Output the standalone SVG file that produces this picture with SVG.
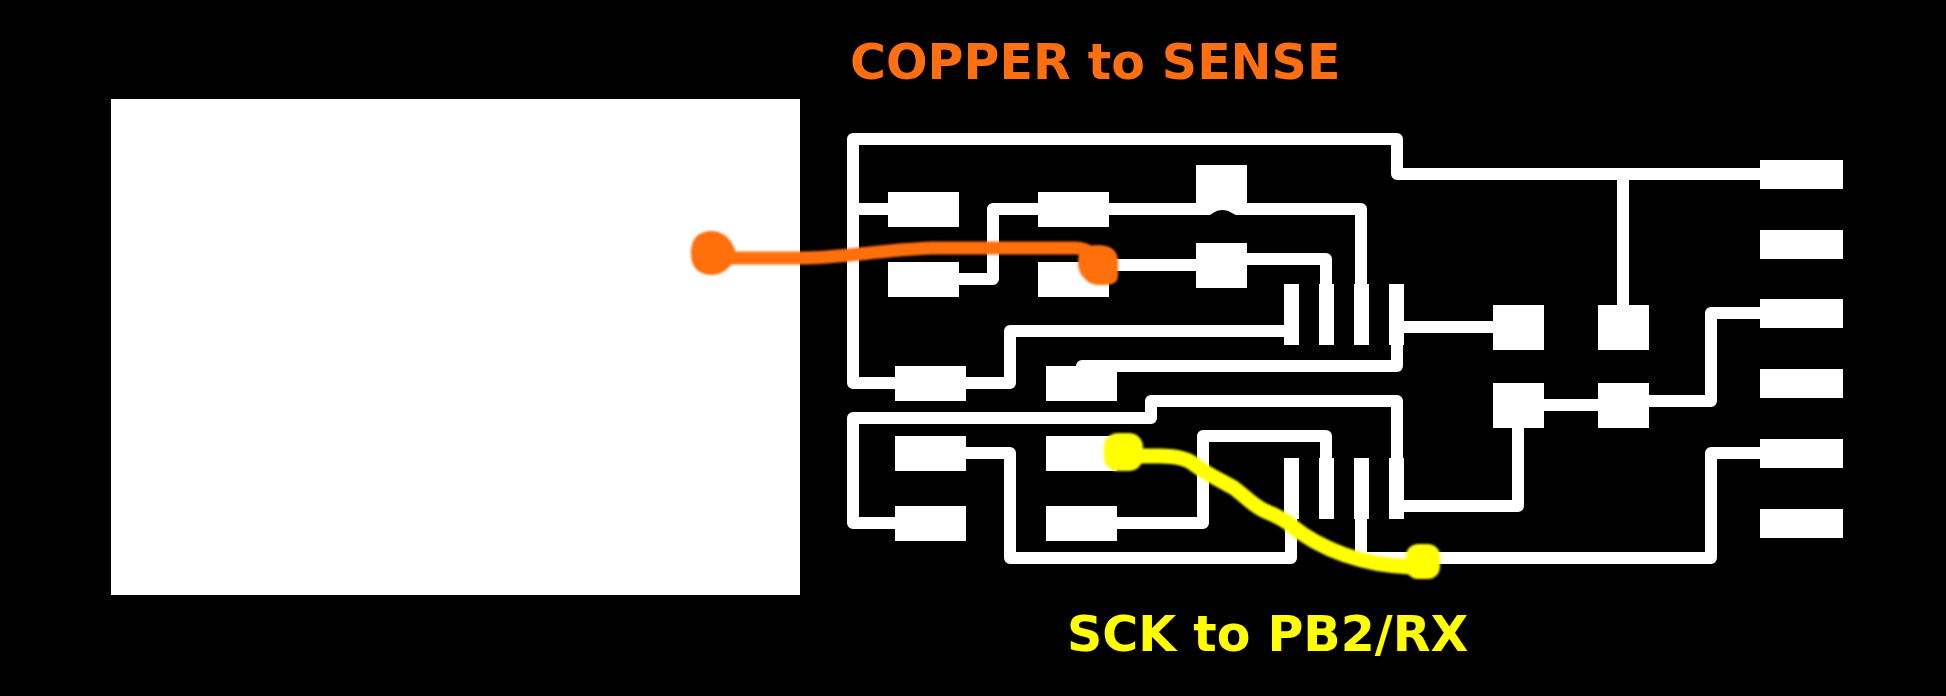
<svg xmlns="http://www.w3.org/2000/svg" width="1946" height="696" viewBox="0 0 1946 696">
<defs>
<style>
.pad{fill:#fff}
.tr{fill:none;stroke:#fff;stroke-width:12;stroke-linejoin:round;stroke-linecap:round}
.lbl{font-family:"DejaVu Sans",sans-serif;font-weight:700;font-size:49px}
.or{fill:none;stroke:#ff6f10;stroke-width:13;stroke-linejoin:round;stroke-linecap:round}
.ye{fill:none;stroke:#ffff00;stroke-width:15;stroke-linejoin:round;stroke-linecap:round}
</style>
<filter id="soft" x="-10%" y="-10%" width="120%" height="120%"><feGaussianBlur stdDeviation="1"/></filter>
</defs>
<rect width="1946" height="696" fill="#000"/>
<g id="copper-plane"><rect class="pad" x="111" y="99" width="689" height="496"/></g>
<g id="connectors">
<path class="tr" d="M1760 174H1397V139H853V383H1010V331H1290"/>
<path class="tr" d="M853 209H888"/>
<path class="tr" d="M1623 174V305"/>
<path class="tr" d="M959 279H993V209H1361V284"/>
<path class="tr" d="M1109 265H1196"/>
<path class="tr" d="M1247 259H1326V284"/>
<path class="tr" d="M1082 366H1397V345"/>
<path class="tr" d="M1404 327H1493"/>
<path class="tr" d="M1397 458V401H1151V418H853V523H895"/>
<path class="tr" d="M966 453H1010V558H1291V519"/>
<path class="tr" d="M1117 523H1203V436H1326V458"/>
<path class="tr" d="M1361 519V558H1711V453H1760"/>
<path class="tr" d="M1404 506H1518V428"/>
<path class="tr" d="M1544 405H1598"/>
<path class="tr" d="M1649 401H1711V313H1760"/>
</g>
<path id="trace-notch" fill="#000" d="M1203 216Q1210 216 1213 213Q1217 210 1222 210Q1228 210 1232 213Q1236 216 1242 216Z"/>
<g id="r1"><rect class="pad" x="888" y="192" width="71" height="35"/></g>
<g id="r2"><rect class="pad" x="888" y="262" width="71" height="35"/></g>
<g id="r3"><rect class="pad" x="1038" y="192" width="71" height="35"/></g>
<g id="r4"><rect class="pad" x="1038" y="262" width="71" height="35"/></g>
<g id="c1"><rect class="pad" x="1196" y="165" width="51" height="45"/></g>
<g id="c2"><rect class="pad" x="1196" y="243" width="51" height="45"/></g>
<g id="r5"><rect class="pad" x="895" y="366" width="71" height="35"/></g>
<g id="r6"><rect class="pad" x="1046" y="366" width="71" height="35"/></g>
<g id="r7"><rect class="pad" x="895" y="436" width="71" height="35"/></g>
<g id="r8"><rect class="pad" x="1046" y="436" width="71" height="35"/></g>
<g id="r9"><rect class="pad" x="895" y="506" width="71" height="35"/></g>
<g id="r10"><rect class="pad" x="1046" y="506" width="71" height="35"/></g>
<g id="ic1">
<rect class="pad" x="1284" y="284" width="15" height="61"/>
<rect class="pad" x="1319" y="284" width="15" height="61"/>
<rect class="pad" x="1354" y="284" width="15" height="61"/>
<rect class="pad" x="1389" y="284" width="15" height="61"/>
</g>
<g id="ic2">
<rect class="pad" x="1284" y="458" width="15" height="61"/>
<rect class="pad" x="1319" y="458" width="15" height="61"/>
<rect class="pad" x="1354" y="458" width="15" height="61"/>
<rect class="pad" x="1389" y="458" width="15" height="61"/>
</g>
<g id="c3"><rect class="pad" x="1493" y="305" width="51" height="45"/></g>
<g id="c4"><rect class="pad" x="1598" y="305" width="51" height="45"/></g>
<g id="c5"><rect class="pad" x="1493" y="383" width="51" height="45"/></g>
<g id="c6"><rect class="pad" x="1598" y="383" width="51" height="45"/></g>
<g id="header">
<rect class="pad" x="1760" y="160" width="83" height="29"/>
<rect class="pad" x="1760" y="230" width="83" height="29"/>
<rect class="pad" x="1760" y="299" width="83" height="29"/>
<rect class="pad" x="1760" y="369" width="83" height="29"/>
<rect class="pad" x="1760" y="439" width="83" height="29"/>
<rect class="pad" x="1760" y="509" width="83" height="29"/>
</g>
<g id="copper-to-sense" filter="url(#soft)">
<path class="or" d="M720 258H800C840 258 880 250 932 248H1075Q1085 248 1095 255"/>
<path d="M691 253Q691 232 711 231Q728 231 735 250V258Q727 275 711 275Q691 274 691 253Z" fill="#ff6f10"/>
<path d="M1078 262Q1078 245 1098 245Q1118 245 1118 262V276Q1118 285 1104 285H1098Q1090 285 1084 278Q1078 272 1078 262Z" fill="#ff6f10"/>
</g>
<g id="sck-to-pb2" filter="url(#soft)">
<path class="ye" d="M1130 456H1160C1175 456 1187 458 1195 465C1205 473 1220 480 1234 488C1245 496 1252 505 1265 511C1275 515 1285 520 1292 526C1305 537 1320 546 1345 555C1365 562 1385 566 1410 567"/>
<rect x="1104" y="433" width="39" height="38" rx="14" fill="#ffff00"/>
<rect x="1406" y="544" width="34" height="35" rx="12" fill="#ffff00"/>
</g>
<text class="lbl" x="850" y="79" fill="#ff6f10">COPPER to SENSE</text>
<text class="lbl" x="1067" y="651" fill="#ffff00">SCK to PB2/RX</text>
</svg>
